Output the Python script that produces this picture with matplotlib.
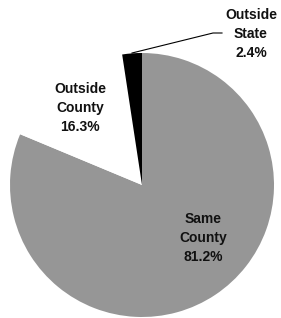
import matplotlib.pyplot as plt

labels = ['Same\nCounty', 'Outside\nCounty', 'Outside\nState']
values = [81.2, 16.3, 2.4]
colors = ['#969696', 'white', 'black']

H = 318
fig = plt.figure(figsize=(2.81, 3.18), dpi=100)
ax = fig.add_axes([0, 0, 1, 1])

ax.pie(values, colors=colors, startangle=90, counterclock=False,
       radius=132, center=(142, H - 185), wedgeprops=dict(linewidth=0))

# labels (image pixel positions, y flipped)
pos = [(203, 238), (80, 108), (251, 34)]
for lab, v, (x, y) in zip(labels, values, pos):
    ax.text(x, H - y, '%s\n%.1f%%' % (lab, v), ha='center', va='center',
            fontsize=10, fontweight='bold', family='Liberation Sans',
            linespacing=1.45, color='#111111')

# leader line for the small slice
ax.plot([132, 213, 222], [H - 53, H - 33, H - 33], color='black', lw=0.8)

ax.set_xlim(0, 281)
ax.set_ylim(0, H)
ax.set_aspect('equal')
ax.axis('off')
fig.savefig('out.png', dpi=100)
